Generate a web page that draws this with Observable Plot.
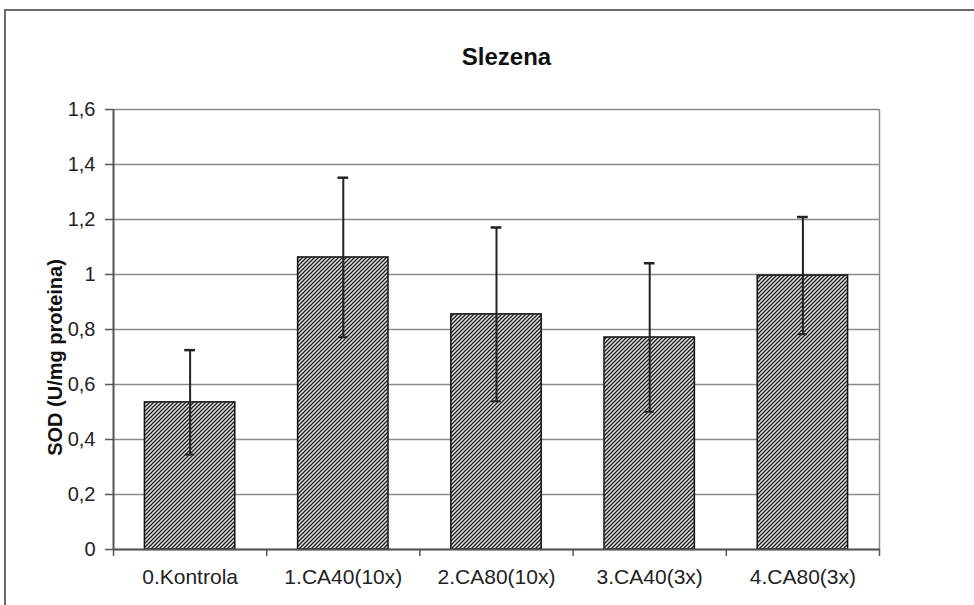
<!DOCTYPE html>
<html><head><meta charset="utf-8">
<script src="https://cdn.jsdelivr.net/npm/d3@7"></script>
<script src="https://cdn.jsdelivr.net/npm/@observablehq/plot@0.6"></script>
<style>
body{margin:0;background:#fff;}
#wrap{position:relative;width:974px;height:605px;overflow:hidden;}
#border{position:absolute;left:4px;top:9px;width:980px;height:620px;border-top:2px solid #6a6a6a;border-left:2px solid #6a6a6a;pointer-events:none;}
</style></head><body><div id="wrap"><div id="border"></div></div>
<script>
const categories = ["0.Kontrola", "1.CA40(10x)", "2.CA80(10x)", "3.CA40(3x)", "4.CA80(3x)"];
const means = [0.535, 1.062, 0.855, 0.771, 0.996];
const errors = [0.19, 0.29, 0.316, 0.27, 0.213];
const yTicks = [0, 0.2, 0.4, 0.6, 0.8, 1.0, 1.2, 1.4, 1.6];
const xBoundaries = [0, 1, 2, 3, 4, 5];
const title = "Slezena";
const yLabel = "SOD (U/mg proteina)";

const data = categories.map((c, i) => ({c, i, m: means[i], e: errors[i]}));
const fmt = d => String(Math.round(d * 10) / 10).replace(".", ",");

const chart = Plot.plot({
  width: 974, height: 605,
  marginLeft: 113, marginRight: 95, marginTop: 109, marginBottom: 56,
  style: {fontFamily: "'Liberation Sans', Arial, sans-serif", fontSize: "20px", color: "#222", background: "transparent"},
  x: {domain: [0, 5], axis: null, label: null},
  y: {domain: [0, 1.6], axis: null, label: null},
  marks: [
    Plot.gridY(yTicks, {stroke: "#8a8a8a", strokeOpacity: 1, strokeWidth: 1.5}),
    Plot.ruleX([5], {stroke: "#8a8a8a", strokeWidth: 1.5}),
    Plot.rectY(data, {x1: d => d.i + 0.205, x2: d => d.i + 0.795, y1: 0, y2: "m",
      fill: "url(#hatch)", stroke: "#111", strokeWidth: 1.5}),
    Plot.ruleX(data, {x: d => d.i + 0.5, y1: d => d.m - d.e, y2: d => d.m + d.e, stroke: "#222", strokeWidth: 2}),
    Plot.ruleY(data, {x1: d => d.i + 0.465, x2: d => d.i + 0.535, y: d => d.m + d.e, stroke: "#222", strokeWidth: 2.5}),
    Plot.ruleY(data, {x1: d => d.i + 0.47, x2: d => d.i + 0.53, y: d => d.m - d.e, stroke: "#222", strokeWidth: 2}),
    Plot.ruleX([0], {stroke: "#555", strokeWidth: 2}),
    Plot.ruleY([0], {stroke: "#555", strokeWidth: 2}),
    Plot.axisY(yTicks, {tickSize: 8, tickPadding: 10, tickFormat: fmt, stroke: "#555", strokeWidth: 1.5, fontSize: 20, fill: "#222", label: null}),
    Plot.axisX(xBoundaries, {tickSize: 7, tickFormat: () => "", stroke: "#555", strokeWidth: 1.5, label: null}),
    Plot.text(data, {x: d => d.i + 0.5, y: 0, text: "c", dy: 28, fontSize: 21, fill: "#222"}),
    Plot.text([yLabel], {frameAnchor: "left", textAnchor: "middle", dx: -58, dy: 28, rotate: -90, fontWeight: "bold", fontSize: 20, fill: "#111"}),
    Plot.text([title], {frameAnchor: "top", dy: -62, dx: 10, fontWeight: "bold", fontSize: 24, fill: "#111"})
  ]
});

const defs = d3.select(chart).insert("defs", ":first-child");
const p = defs.append("pattern").attr("id", "hatch").attr("patternUnits", "userSpaceOnUse")
  .attr("width", 4).attr("height", 4);
p.append("rect").attr("width", 4).attr("height", 4).attr("fill", "#e2e2e2");
p.append("path").attr("d", "M-1,1 l2,-2 M0,4 l4,-4 M3,5 l2,-2")
  .attr("stroke", "#1a1a1a").attr("stroke-width", 1.25);

document.getElementById("wrap").appendChild(chart);
chart.style.position = "absolute";
chart.style.left = "0";
chart.style.top = "0";
</script>
</body></html>
